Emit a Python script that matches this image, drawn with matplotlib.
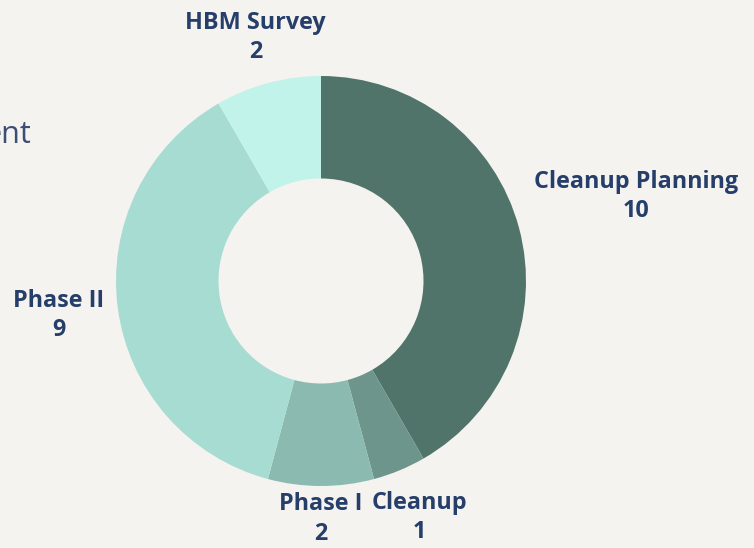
import matplotlib.pyplot as plt
import numpy as np

LABELS = ["Cleanup Planning", "Cleanup", "Phase I", "Phase II", "HBM Survey"]
VALUES = [10, 1, 2, 9, 2]
COLORS = ["#51746a", "#6e958b", "#8bbab0", "#a6dcd1", "#c2f3ea"]
LABEL_DIST = [1.59, 1.25, 1.16, 1.29, 1.23]

BG = "#f5f3ef"
TXT = "#263e6a"

W, H = 754, 548
fig = plt.figure(figsize=(W / 100, H / 100), dpi=100, facecolor=BG)
ax = fig.add_axes([0, 0, 1, 1])
ax.set_facecolor(BG)

cx, cy, r = 321, H - 281, 205
wedges, _ = ax.pie(VALUES, colors=COLORS, startangle=90, counterclock=False,
                   center=(cx, cy), radius=r,
                   wedgeprops=dict(width=r * 0.5, linewidth=0))

for w, lab, val, d in zip(wedges, LABELS, VALUES, LABEL_DIST):
    mid = np.deg2rad((w.theta1 + w.theta2) / 2)
    x = cx + d * r * np.cos(mid)
    y = cy + d * r * np.sin(mid)
    ax.text(x, y, f"{lab}\n{val}", ha="center", va="center", fontsize=16.8,
            fontweight="bold", color=TXT, family="Open Sans", linespacing=1.3)

# cut-off title fragment at the left edge
ax.text(31, H - 143, "ent", ha="right", va="baseline", fontsize=22,
        color="#3c4f73", family="Open Sans")

ax.set_xlim(0, W)
ax.set_ylim(0, H)
ax.set_aspect("equal")
ax.axis("off")

fig.savefig("out.png", dpi=100, facecolor=BG)
